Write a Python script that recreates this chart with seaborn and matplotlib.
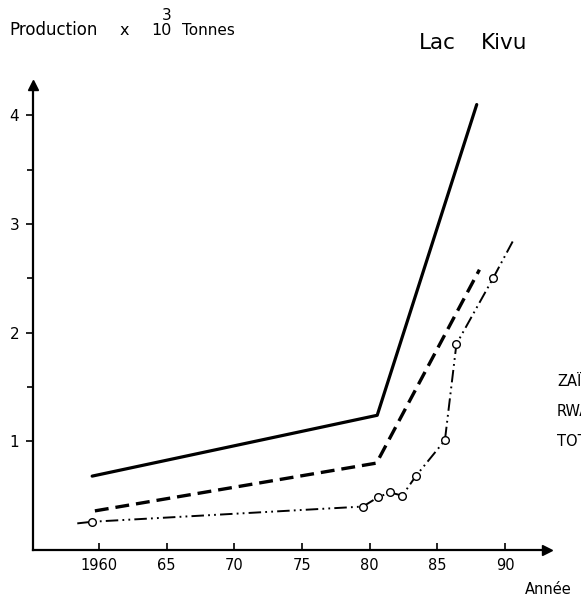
import matplotlib
matplotlib.use("Agg")
import matplotlib.pyplot as plt
import seaborn as sns

# Lac Kivu - production (x 1000 t)
total_years = [1959.5, 1980.55, 1987.9]
total_prod = [0.68, 1.24, 4.10]

zaire_years = [1959.7, 1980.5, 1988.1]
zaire_prod = [0.36, 0.80, 2.58]

# first and last entries are only line ends, the others are the circles
rwanda_years = [1958.4, 1959.5, 1979.5, 1980.6, 1981.5, 1982.4, 1983.4, 1985.55, 1986.4, 1989.1, 1990.6]
rwanda_prod = [0.245, 0.26, 0.40, 0.485, 0.53, 0.50, 0.68, 1.01, 1.895, 2.50, 2.85]

x_ticks = [1960, 1965, 1970, 1975, 1980, 1985, 1990]
x_labels = ["1960", "65", "70", "75", "80", "85", "90"]
y_ticks = [1, 2, 3, 4]
y_minor = [1.5, 2.5, 3.5]
legend_names = ["ZAÏRE", "RWANDA", "TOTAL"]

W, H = 581, 600


def fx(px):
    return px / W


def fy(py):
    return 1 - py / H


sns.set_style("ticks")
plt.rcParams["font.family"] = ["DejaVu Sans"]
plt.rcParams["lines.scale_dashes"] = False
plt.rcParams["text.color"] = "black"
plt.rcParams["xtick.color"] = "black"
plt.rcParams["ytick.color"] = "black"
plt.rcParams["axes.edgecolor"] = "black"

fig = plt.figure(figsize=(W / 100, H / 100), dpi=100)
ax = fig.add_axes([fx(33), fy(550), (547 - 33) / W, (550 - 85) / H])

sns.lineplot(x=total_years, y=total_prod, ax=ax, color="black", lw=2.3)
sns.lineplot(x=zaire_years, y=zaire_prod, ax=ax, color="black", lw=2.4,
             linestyle=(0, (10, 5)))
sns.lineplot(x=rwanda_years, y=rwanda_prod, ax=ax, color="black", lw=1.4,
             linestyle=(0, (9, 3, 1.3, 3, 1.3, 3)), marker="o",
             markevery=slice(1, -1), ms=5.5, mfc="white", mec="black", mew=1)

ax.set_xlim(1955.13, 1993.09)
ax.set_ylim(0, 4.28)
ax.set_xticks(x_ticks, x_labels)
ax.set_yticks(y_ticks)
ax.set_yticks(y_minor, minor=True)
ax.set_xlabel("")
ax.set_ylabel("")

sns.despine(ax=ax)
for s in ["left", "bottom"]:
    ax.spines[s].set_linewidth(1.6)
ax.tick_params(axis="x", direction="in", length=5, width=1.2, labelsize=10.5, pad=6)
ax.tick_params(axis="y", which="major", direction="out", length=5, width=1.2,
               labelsize=11, pad=5)
ax.tick_params(axis="y", which="minor", direction="out", length=4, width=1.2)

# arrow heads on the axes
ax.plot(1, 0, marker=">", color="black", ms=7, transform=ax.transAxes, clip_on=False)
ax.plot(0, 1, marker="^", color="black", ms=7, transform=ax.transAxes, clip_on=False)

# header texts
fig.text(fx(9), fy(35), "Production", va="baseline", fontsize=12)
fig.text(fx(120), fy(35), "x", va="baseline", fontsize=11.5)
fig.text(fx(151), fy(35), "10", va="baseline", fontsize=11.5)
fig.text(fx(162), fy(20), "3", va="baseline", fontsize=11)
fig.text(fx(182), fy(35), "Tonnes", va="baseline", fontsize=11)

fig.text(fx(419), fy(49), "Lac", va="baseline", fontsize=15.5)
fig.text(fx(481), fy(49), "Kivu", va="baseline", fontsize=15.5)

fig.text(fx(525), fy(590), "Année", va="center", fontsize=10.5)

# legend labels, cut by the right edge as in the scan
for i, name in enumerate(legend_names):
    fig.text(fx(557), fy(381.5 + i * 30), name, va="center", fontsize=10.5)

fig.savefig("out.png", dpi=100)
